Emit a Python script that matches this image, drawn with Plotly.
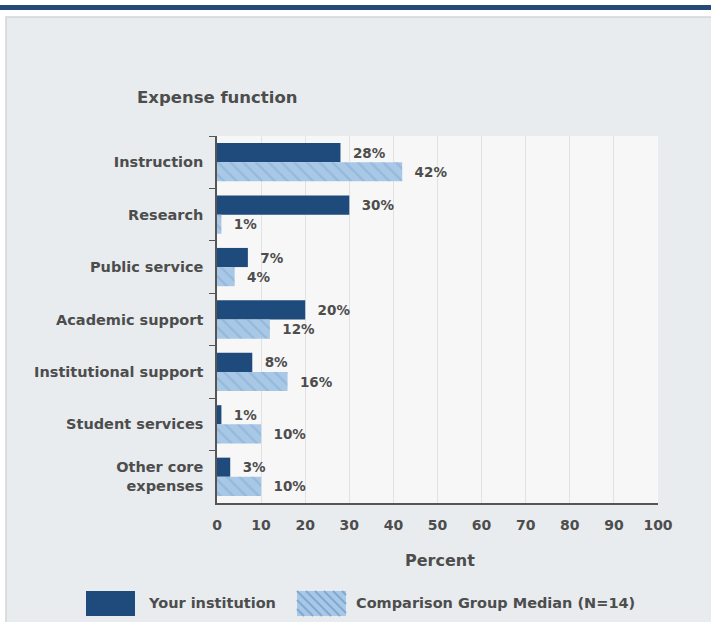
import plotly.graph_objects as go

categories = ["Instruction", "Research", "Public service", "Academic support",
              "Institutional support", "Student services", "Other core<br>expenses"]
your_institution = [28, 30, 7, 20, 8, 1, 3]
comparison_median = [42, 1, 4, 12, 16, 10, 10]
x_ticks = [0, 10, 20, 30, 40, 50, 60, 70, 80, 90, 100]

W, H = 711, 622
L, R, T, B = 217, 658, 136, 503  # plot area in pixels

def px(x):
    return (x - L) / (R - L)

def py(y):
    return (B - y) / (B - T)

DARK = "#1f4b7c"
LIGHT = "#a9c8e6"
TXT = "#4d4d4d"
FONT = "DejaVu Sans"

def f(size):
    return dict(family=FONT, size=size, color=TXT, weight="bold")

fig = go.Figure()
fig.add_trace(go.Bar(
    y=categories, x=your_institution, orientation="h", name="Your institution",
    marker=dict(color=DARK, line=dict(width=0)),
    texttemplate="\u00a0\u00a0%{x}%", textposition="outside",
    textfont=f(13.5), cliponaxis=False,
    showlegend=False,
))
fig.add_trace(go.Bar(
    y=categories, x=comparison_median, orientation="h", name="Comparison Group Median (N=14)",
    marker=dict(color=LIGHT, line=dict(width=0),
                pattern=dict(shape="\\", fgcolor="#7fa9d3", bgcolor=LIGHT, size=9, solidity=0.25)),
    texttemplate="\u00a0\u00a0%{x}%", textposition="outside",
    textfont=f(13.5), cliponaxis=False,
    showlegend=False,
))

shapes = [
    # top blue band
    dict(type="rect", xref="paper", yref="paper", x0=px(0), x1=px(W), y0=py(10), y1=py(5),
         fillcolor="#234a78", line=dict(width=0), layer="below"),
    # gray panel
    dict(type="rect", xref="paper", yref="paper", x0=px(6), x1=px(W + 5), y0=py(H + 5), y1=py(17),
         fillcolor="#e8ecef", line=dict(color="#d2d5d8", width=1.5), layer="below"),
    # plot area background
    dict(type="rect", xref="paper", yref="paper", x0=0, x1=1, y0=0, y1=1,
         fillcolor="#f7f7f7", line=dict(width=0), layer="below"),
    # custom legend swatches
    dict(type="rect", xref="paper", yref="paper", x0=px(86), x1=px(135), y0=py(616), y1=py(591),
         fillcolor=DARK, line=dict(width=0), layer="above"),
    dict(type="rect", xref="paper", yref="paper", x0=px(297), x1=px(346), y0=py(616), y1=py(591),
         fillcolor=LIGHT, line=dict(width=0), layer="above"),
]
# hatch lines on the comparison legend swatch
for k in range(-3, 6):
    x0, y0 = 297 + k * 9, 591
    x1, y1 = x0 + 25, 616
    if x0 < 297:
        y0 = 591 + (297 - x0)
        x0 = 297
    if x1 > 346:
        y1 = 616 - (x1 - 346)
        x1 = 346
    if x1 > x0 and y1 > y0:
        shapes.append(dict(type="line", xref="paper", yref="paper", x0=px(x0), y0=py(y0),
                           x1=px(x1), y1=py(y1), line=dict(color="#7fa9d3", width=2), layer="above"))

annotations = [
    dict(text="Expense function", xref="paper", yref="paper", x=px(135), y=py(97),
         xanchor="left", yanchor="middle", showarrow=False, font=f(16.5)),
    dict(text="Percent", xref="paper", yref="paper", x=px(440), y=py(560),
         xanchor="center", yanchor="middle", showarrow=False, font=f(16)),
    dict(text="Your institution", xref="paper", yref="paper", x=px(146), y=py(603),
         xanchor="left", yanchor="middle", showarrow=False, font=f(14.5)),
    dict(text="Comparison Group Median (N=14)", xref="paper", yref="paper", x=px(354), y=py(603),
         xanchor="left", yanchor="middle", showarrow=False, font=f(14.5)),
]

fig.update_layout(
    width=W, height=H,
    margin=dict(l=L, r=W - R, t=T, b=H - B, pad=0),
    paper_bgcolor="white", plot_bgcolor="rgba(0,0,0,0)",
    barmode="group", bargap=0.27, bargroupgap=0,
    showlegend=False,
    shapes=shapes, annotations=annotations,
    font=f(14),
    xaxis=dict(range=[0, 100], tickvals=x_ticks, showgrid=True, gridcolor="#e2e2e2", gridwidth=1,
               zeroline=False, showline=True, linecolor="#555555", linewidth=1.5,
               ticks="outside", ticklen=8, tickcolor="rgba(0,0,0,0)",
               tickfont=f(14)),
    yaxis=dict(autorange="reversed", showgrid=False, showline=True, linecolor="#555555", linewidth=1.5,
               ticks="outside", tickson="boundaries", ticklen=6, tickcolor="#555555",
               ticklabelstandoff=9, tickfont=f(14.5)),
)

fig.write_html("out.html", config={"displayModeBar": False},
               post_script="document.body.style.margin='0px';")
